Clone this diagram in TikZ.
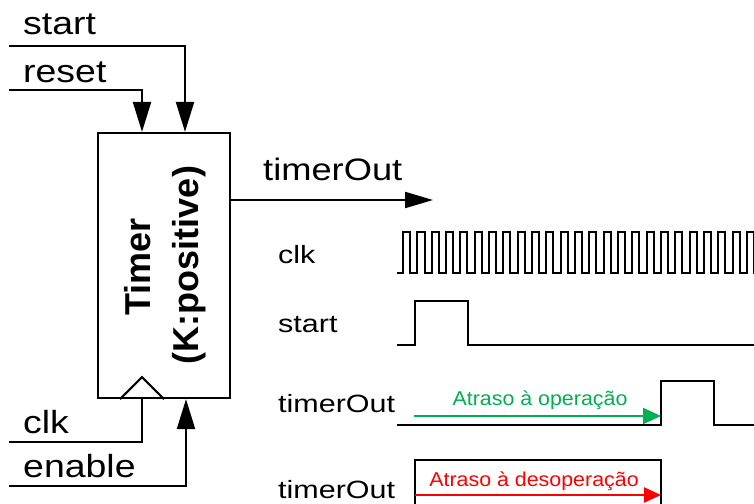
\documentclass[tikz,border=0pt]{standalone}
\usepackage{fontspec}
\setmainfont{Liberation Sans}
\newfontfamily\lblfont{Liberation Sans}[FakeStretch=1.17]
\newfontfamily\tlfont{Liberation Sans}[FakeStretch=1.22]
\newfontfamily\notefont{Liberation Sans}[FakeStretch=1.07]
\usetikzlibrary{arrows.meta,calc}
\definecolor{opgreen}{RGB}{0,176,80}
\definecolor{opred}{RGB}{255,0,0}
\begin{document}
\begin{tikzpicture}[x=1pt,y=-1pt,
  sig/.style={line width=2.2pt},
  inarrow/.style={sig,-{Triangle[length=30pt,width=18pt]}},
  outarrow/.style={sig,-{Triangle[length=28pt,width=16pt]}},
  wave/.style={line width=2pt,line join=miter},
  biglbl/.style={anchor=base west,inner sep=0pt,font=\lblfont\fontsize{32}{38}\selectfont},
  tl/.style={anchor=base west,inner sep=0pt,font=\tlfont\fontsize{25}{30}\selectfont},
  note/.style={anchor=base,inner sep=0pt,font=\notefont\fontsize{20}{24}\selectfont},
  boxtext/.style={rotate=90,anchor=base,inner sep=0pt,font=\bfseries\fontsize{36}{43}\selectfont}]
\useasboundingbox (0,0) rectangle (754,503);
\fill[white] (0,0) rectangle (754,503);

% block
\node[draw,line width=2.2pt,minimum width=132pt,minimum height=265pt,inner sep=0pt] (box) at (164,265.5) {};
\node[boxtext] (ttimer) at (150,267) {Timer};
\node[boxtext] (tk) at (198,265) {(K:positive)};
\draw[line width=2pt] ($(box.south)+(-44,0)$) -- ++(22,-22) coordinate (clkapex) -- ++(22,22);

% labels
\node[biglbl] (lstart) at (23,35) {start};
\node[biglbl] (lreset) at (23,82) {reset};
\node[biglbl] (lclk) at (23,433) {clk};
\node[biglbl] (lenable) at (23,477) {enable};
\node[biglbl,font=\lblfont\fontsize{31}{37}\selectfont] (lout) at (263,180) {timerOut};

% connectors
\coordinate (stin) at (9,46);
\coordinate (rsin) at (9,90);
\coordinate (clkin) at (9,442);
\coordinate (enin) at (9,486);
\coordinate (outtip) at (433,200);
\draw[inarrow] (stin) -| ($(box.north)+(21,0)$);
\draw[inarrow] (rsin) -| ($(box.north)+(-22,0)$);
\draw[sig] (clkin) -| ($(box.south)+(-22,0)$);
\draw[inarrow] (enin) -| ($(box.south)+(22,0)$);
\draw[outarrow] (outtip -| box.east) -- (outtip);

% timing labels
\node[tl] (wclk) at (278,263) {clk};
\node[tl] (wstart) at (278,332) {start};
\node[tl] (wout1) at (278,412) {timerOut};
\node[tl] (wout2) at (278,498) {timerOut};

% waveforms
\begin{scope}
\clip (0,0) rectangle (754,503);
\draw[wave] (397,273) -- (403,273) foreach \i in {0,...,24}{ -- ++(0,-41) -- ++(7.165,0) -- ++(0,41) -- ++(7.165,0)};
\draw[wave] (397,345) -- (415,345) -- (415,301) -- (468,301) -- (468,345) -- (760,345);
\draw[wave] (397,425) -- (661,425) -- (661,381) -- (714,381) -- (714,425) -- (760,425);
\draw[wave] (415,510) -- (415,460) -- (661,460) -- (661,510);
\end{scope}

% delays
\coordinate (ga) at (414,416);
\coordinate (gb) at (661,416);
\coordinate (ra) at (415,495);
\coordinate (rb) at (661,495);
\draw[opgreen,line width=2pt,-{Triangle[length=18pt,width=16pt]}] (ga) -- (gb);
\draw[opred,line width=2pt,-{Triangle[length=17pt,width=15pt]}] (ra) -- (rb);
\node[note,text=opgreen] (gtxt) at (540,405) {Atraso à operação};
\node[note,text=opred] (rtxt) at (534,486) {Atraso à desoperação};
\end{tikzpicture}
\end{document}
